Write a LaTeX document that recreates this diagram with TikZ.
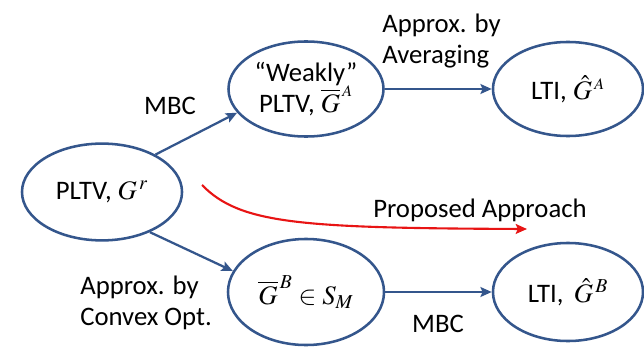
\documentclass[tikz,border=0pt]{standalone}
\usepackage{mathptmx}
\usepackage{fontspec}
\setmainfont{Carlito}
\usetikzlibrary{shapes.geometric,arrows.meta}
\definecolor{eblue}{RGB}{52,86,140}
\definecolor{ared}{RGB}{232,20,20}
\begin{document}
\begin{tikzpicture}[x=0.025cm,y=-0.025cm,
  txt/.style={font=\fontsize{19}{22}\selectfont},
  ell/.style={ellipse, draw=eblue, line width=1.8pt, inner sep=0pt, align=center, txt},
  lbl/.style={txt, align=left, inner sep=0pt},
  arr/.style={draw=eblue, line width=1.6pt, -{Stealth[length=8pt,width=7pt,inset=1.5pt]}},
  redarr/.style={draw=ared, line width=1.5pt, -{Stealth[length=8pt,width=7pt,inset=1.5pt]}}]
\useasboundingbox[fill=white] (0,0) rectangle (644,348);
\node[ell, minimum width=4.0cm, minimum height=2.42cm] (p) at (102,192) {PLTV, $G^{\,r}$};
\node[ell, minimum width=3.875cm, minimum height=2.375cm] (wa) at (306,89) {“Weakly”\\PLTV, $\overline{G}^{\,\scriptscriptstyle A}$};
\node[ell, minimum width=3.75cm, minimum height=2.35cm] (la) at (568,89) {LTI, $\hat{G}^{\,\scriptscriptstyle A}$};
\node[ell, minimum width=3.9cm, minimum height=2.65cm] (gb) at (306,292) {$\overline{G}^{\,B}\in S_{M}$};
\node[ell, minimum width=3.75cm, minimum height=2.45cm] (lb) at (568,292) {LTI,\, $\hat{G}^{\,B}$};
\draw[arr] (p.35) -- (wa.199);
\draw[arr] (p.-40) -- (gb.164);
\draw[arr] (wa.east) -- (la.west);
\draw[arr] (gb.east) -- (lb.west);
\coordinate (rs) at (202,185);
\coordinate (re) at (527,229);
\draw[redarr] (rs) .. controls (240,224) and (300,228) .. (re);
\node[lbl] (mbc1) at (170,106) {MBC};
\node[lbl, anchor=west] (avg) at (382,41) {Approx. by\\Averaging};
\node[lbl, anchor=west] (prop) at (373,210) {Proposed Approach};
\node[lbl, anchor=west] (cvx) at (80,303) {Approx. by\\Convex Opt.};
\node[lbl] (mbc2) at (438,324) {MBC};
\end{tikzpicture}
\end{document}
